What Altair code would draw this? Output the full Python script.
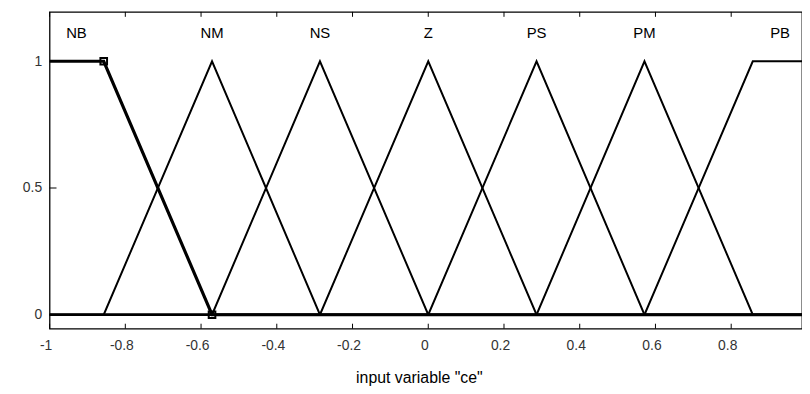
import altair as alt
import pandas as pd

# Membership functions (breakpoints of the 7 fuzzy sets over [-1, 1])
mf_names = ["NB", "NM", "NS", "Z", "PS", "PM", "PB"]
nb_x = [-1.0, -0.857, -0.571, 1.0]
nb_y = [1, 1, 0, 0]
nm_x = [-1.0, -0.857, -0.571, -0.286, 1.0]
nm_y = [0, 0, 1, 0, 0]
ns_x = [-1.0, -0.571, -0.286, 0.0, 1.0]
ns_y = [0, 0, 1, 0, 0]
z_x = [-1.0, -0.286, 0.0, 0.286, 1.0]
z_y = [0, 0, 1, 0, 0]
ps_x = [-1.0, 0.0, 0.286, 0.571, 1.0]
ps_y = [0, 0, 1, 0, 0]
pm_x = [-1.0, 0.286, 0.571, 0.857, 1.0]
pm_y = [0, 0, 1, 0, 0]
pb_x = [-1.0, 0.571, 0.857, 1.0]
pb_y = [0, 0, 1, 1]

label_x = [-0.929, -0.571, -0.286, 0.0, 0.286, 0.571, 0.929]
label_y = [1.11] * 7

marker_x = [-0.857, -0.571]
marker_y = [1, 0]

x_ticks = [-1, -0.8, -0.6, -0.4, -0.2, 0, 0.2, 0.4, 0.6, 0.8]
y_ticks = [0, 0.5, 1]

W, H = 760, 320
x_dom = [-1, 0.987]
y_dom = [-0.055, 1.195]

xs = [nb_x, nm_x, ns_x, z_x, ps_x, pm_x, pb_x]
ys = [nb_y, nm_y, ns_y, z_y, ps_y, pm_y, pb_y]
rows = []
for name, xl, yl in zip(mf_names, xs, ys):
    for i, (a, b) in enumerate(zip(xl, yl)):
        rows.append({"mf": name, "x": a, "y": b, "o": i})
df = pd.DataFrame(rows)
df_thin = df[df.mf != "NB"]
df_nb = df[df.mf == "NB"]

labels = pd.DataFrame({"name": mf_names, "x": label_x, "y": label_y})
markers = pd.DataFrame({"x": marker_x, "y": marker_y})
xt = pd.DataFrame({"v": x_ticks})
yt = pd.DataFrame({"v": y_ticks})

xscale = alt.Scale(domain=x_dom, nice=False, zero=False)
yscale = alt.Scale(domain=y_dom, nice=False, zero=False)

x_axis = alt.Axis(
    values=x_ticks, domain=False, ticks=False, grid=False,
    labelExpr="datum.value == 0 ? '0' : toString(datum.value)",
    labelFont="Liberation Sans", labelFontSize=14, labelColor="#333",
    labelPadding=10, labelFlush=False, labelOffset=-4,
    title='input variable "ce"', titleFont="Liberation Sans", titleFontSize=16,
    titleFontWeight="normal", titleColor="#000",
    titleX=373, titleY=54, titleBaseline="alphabetic", titleAlign="center",
)
y_axis = alt.Axis(
    values=y_ticks, domain=False, ticks=False, grid=False,
    labelExpr="toString(datum.value)",
    labelFont="Liberation Sans", labelFontSize=14, labelColor="#333",
    labelPadding=8, labelFlush=False, title=None,
)

thin = alt.Chart(df_thin).mark_line(color="black", strokeWidth=2, clip=True).encode(
    x=alt.X("x:Q", scale=xscale, axis=x_axis),
    y=alt.Y("y:Q", scale=yscale, axis=y_axis),
    detail="mf:N",
    order="o:Q",
)
thick = alt.Chart(df_nb).mark_line(color="black", strokeWidth=3.2, clip=True).encode(
    x=alt.X("x:Q", scale=xscale),
    y=alt.Y("y:Q", scale=yscale),
    order="o:Q",
)
mk = alt.Chart(markers).mark_point(shape="square", filled=False, color="black",
                                   strokeWidth=2, size=45, opacity=1).encode(
    x=alt.X("x:Q", scale=xscale),
    y=alt.Y("y:Q", scale=yscale),
)
txt = alt.Chart(labels).mark_text(font="Liberation Sans", fontSize=15, color="black",
                                  fontWeight=500, baseline="middle", align="center").encode(
    x=alt.X("x:Q", scale=xscale),
    y=alt.Y("y:Q", scale=yscale),
    text="name:N",
)
bt = alt.Chart(xt).mark_rule(color="black", strokeWidth=1).encode(
    x=alt.X("v:Q", scale=xscale), y=alt.value(H), y2=alt.value(H - 5)
)
tt = alt.Chart(xt).mark_rule(color="black", strokeWidth=1).encode(
    x=alt.X("v:Q", scale=xscale), y=alt.value(0), y2=alt.value(5)
)
lt = alt.Chart(yt).mark_rule(color="black", strokeWidth=1).encode(
    y=alt.Y("v:Q", scale=yscale), x=alt.value(0), x2=alt.value(7)
)

chart = alt.layer(thin, thick, mk, txt, bt, tt, lt).properties(
    width=W, height=H,
    background="white",
    autosize=alt.AutoSizeParams(type="none"),
    padding={"left": 42, "top": 2, "right": 0, "bottom": 56},
).configure_view(stroke="black", strokeWidth=1.3)

chart.save("out.html", embed_options={"renderer": "svg", "actions": False})
